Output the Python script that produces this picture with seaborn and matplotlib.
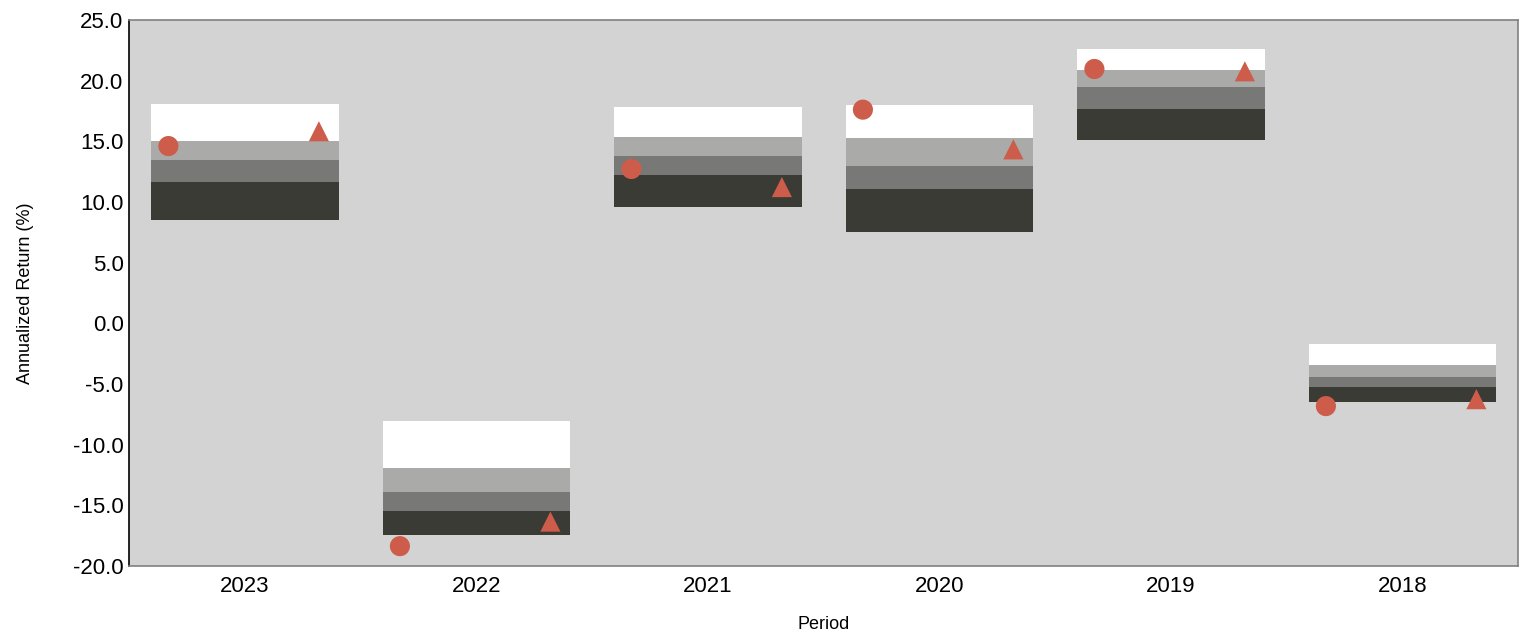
import numpy as np
import pandas as pd
import seaborn as sns
import matplotlib.pyplot as plt

periods = ['2023', '2022', '2021', '2020', '2019', '2018']

# percentile band edges (top of each band)
p05 = [18.05, -8.08, 17.86, 17.97, 22.64, -1.71]
p25 = [15.05, -11.93, 15.33, 15.25, 20.85, -3.41]
p50 = [13.43, -13.86, 13.79, 12.99, 19.48, -4.40]
p75 = [11.64, -15.48, 12.20, 11.07, 17.66, -5.26]
p95 = [8.48, -17.48, 9.58, 7.52, 15.08, -6.49]

fund = [14.61, -18.36, 12.72, 17.61, 20.96, -6.82]
bench = [15.83, -16.34, 11.23, 14.34, 20.77, -6.25]

band_colors = ['#ffffff', '#aaaaa8', '#787876', '#3b3b35']
marker_color = '#cd5c4a'
bg = '#d3d3d3'

sns.set_theme(style='white')
plt.rcParams['font.family'] = ['Liberation Sans', 'DejaVu Sans']
plt.rcParams['text.color'] = 'black'
plt.rcParams['axes.labelcolor'] = 'black'
plt.rcParams['xtick.color'] = 'black'
plt.rcParams['ytick.color'] = 'black'

fig = plt.figure(figsize=(15.22, 6.36), dpi=100)
ax = fig.add_axes([0.0848, 0.110, 0.9126, 0.8586])
ax.set_facecolor(bg)

edges = [p05, p25, p50, p75, p95]
for i, c in enumerate(band_colors):
    top = np.array(edges[i])
    bot = np.array(edges[i + 1])
    df = pd.DataFrame({'Period': periods, 'h': top - bot})
    sns.barplot(data=df, x='Period', y='h', order=periods, bottom=bot, color=c,
                width=0.81, saturation=1, linewidth=0, ax=ax)

pos = np.arange(len(periods))
pts = pd.DataFrame({'x': np.concatenate([pos - 0.33, pos + 0.32]),
                    'y': fund + bench,
                    'kind': ['Fund'] * len(periods) + ['Benchmark'] * len(periods)})
sns.scatterplot(data=pts, x='x', y='y', style='kind', markers={'Fund': 'o', 'Benchmark': '^'},
                color=marker_color, s=210, linewidth=0, legend=False, ax=ax, zorder=5)

ax.set_xlim(-0.5, len(periods) - 0.5)
ax.set_ylim(-20, 25)
ax.set_yticks(np.arange(-20, 25.1, 5))
ax.set_yticklabels([f'{v:.1f}' for v in np.arange(-20, 25.1, 5)])
ax.set_xticks(pos)
ax.set_xticklabels(periods)
ax.tick_params(axis='both', length=0, labelsize=16, pad=4)
ax.tick_params(axis='x', pad=7)

ax.set_xlabel('Period', fontsize=13, labelpad=14)
ax.set_ylabel('Annualized Return (%)', fontsize=13, labelpad=28)

for side in ['top', 'right', 'bottom']:
    ax.spines[side].set_color('#808080')
    ax.spines[side].set_linewidth(1.2)
ax.spines['left'].set_color('#000000')
ax.spines['left'].set_linewidth(1.2)

plt.savefig('out.png', dpi=100)
plt.close()
